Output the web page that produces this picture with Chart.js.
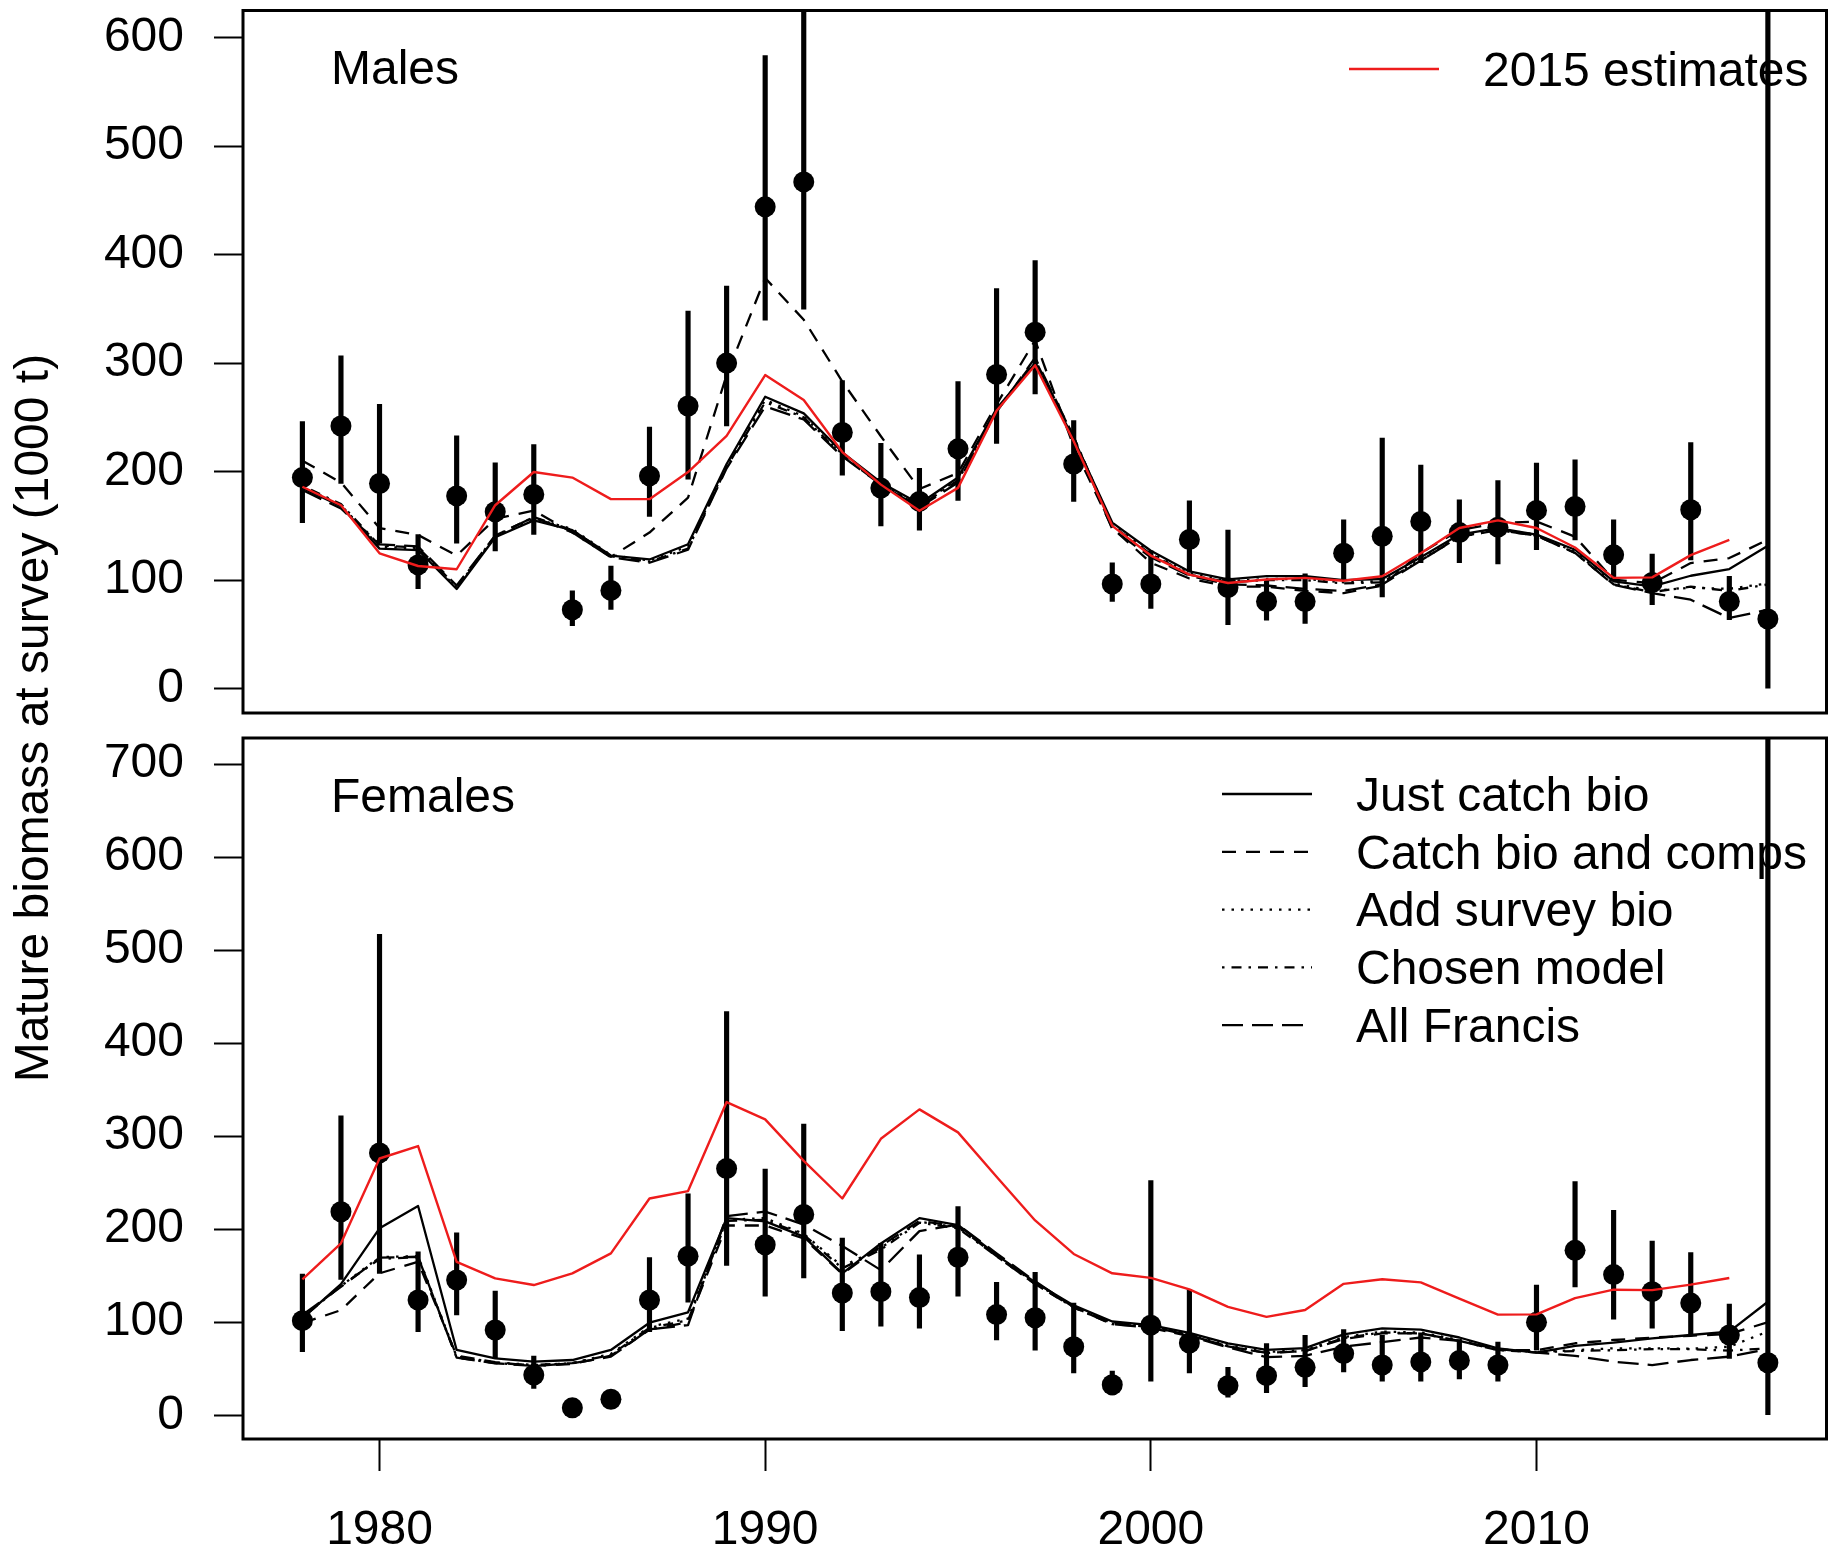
<!DOCTYPE html>
<html>
<head>
<meta charset="utf-8">
<title>Mature biomass at survey</title>
<script src="https://cdn.jsdelivr.net/npm/chart.js@4.4.1/dist/chart.umd.min.js"></script>
<style>
  html, body { margin: 0; padding: 0; background: #fff; }
  #wrap { position: relative; width: 1837px; height: 1552px; }
  #wrap canvas { position: absolute; left: 0; top: 0; }
</style>
</head>
<body>
<div id="wrap">
  <canvas id="males" width="1837" height="1552"></canvas>
  <canvas id="females" width="1837" height="1552"></canvas>
</div>
<script>
// ---- data -------------------------------------------------------------
const years = [1978, 1979, 1980, 1981, 1982, 1983, 1984, 1985, 1986, 1987,
               1988, 1989, 1990, 1991, 1992, 1993, 1994, 1995, 1996, 1997,
               1998, 1999, 2000, 2001, 2002, 2003, 2004, 2005, 2006, 2007,
               2008, 2009, 2010, 2011, 2012, 2013, 2014, 2015, 2016];

const xTickValues = [1980, 1990, 2000, 2010];
const maleTickValues = [0, 100, 200, 300, 400, 500, 600];
const femaleTickValues = [0, 100, 200, 300, 400, 500, 600, 700];

// Survey observations (1000 t) with interval bounds
const obsMale = [194.5, 242, 189, 114, 177.6, 163, 179, 72.7, 90.5, 196,
                 260.5, 300, 444, 467, 236, 184.8, 172.5, 221, 289.6, 328.5,
                 207, 96.4, 96.4, 137.4, 93, 80.3, 80.3, 124.7, 140.4, 154,
                 143.8, 148.8, 164.2, 167.8, 123.3, 97.8, 164.8, 80.3, 64.1];
const obsMaleLo = [153, 189, 134, 92, 134, 127, 142, 58, 73, 158.6,
                   193, 242, 339.5, 349.7, 196.6, 150, 146, 173.4, 226, 271.5,
                   172.5, 80.3, 74, 108, 59, 63, 60, 100.6, 84.6, 116,
                   116, 115, 128, 137, 99.4, 77.3, 118.7, 63.5, 0];
const obsMaleHi = [246, 306.6, 262, 142, 233, 208, 225, 90, 113, 241,
                   348, 371, 583.5, 700, 284, 226, 203, 283, 368.7, 394.5,
                   247, 116, 127, 173, 146, 99, 105.7, 155.6, 231, 206,
                   174, 191.8, 207.8, 210.8, 155.6, 124, 226.8, 103.4, 900];

const obsFemale = [101.7, 218.8, 282, 123.9, 145.4, 91.7, 43.3, 8, 17.2, 123.9,
                   171, 265.2, 183.3, 215.8, 131.4, 132.9, 126.5, 169.9, 108.2, 104.8,
                   73.7, 32.8, 96.9, 77.7, 31.8, 42.6, 51.5, 66.3, 54, 57.4,
                   58.9, 54, 99.9, 177.3, 151.2, 132.9, 120.6, 86.3, 56.5];
const obsFemaleLo = [68.4, 146, 152.6, 89.8, 107.8, 61.2, 29, 6, 14, 89.8,
                     121.6, 161, 127.9, 147.7, 91, 95.9, 93.5, 127.9, 81.1, 70,
                     45.6, 21.9, 36.7, 45.6, 19.4, 24.4, 30.8, 46.6, 36.7, 36.7,
                     39.2, 36.7, 70.2, 137.9, 103.3, 93.5, 86, 61.2, 0];
const obsFemaleHi = [151.8, 322, 517, 175.8, 196, 133.6, 63.7, 10, 21, 169.4,
                     238, 433.9, 264.6, 313, 190.6, 184.7, 172.4, 224.2, 142.8, 153.6,
                     120.6, 47.6, 252.3, 135.4, 51.5, 77.2, 86, 92, 86, 88.5,
                     81, 78.6, 140, 251.3, 220.2, 187.2, 174.9, 119.6, 900];

// 2015 assessment estimates (1978-2015)
const est2015Male = [186, 169, 124.7, 113, 110, 169, 199.6, 194.5, 174.6, 174.6,
                     199.6, 233, 289, 266, 218, 188, 164, 185, 256, 298,
                     228, 150, 122.6, 105, 97.3, 100.6, 102, 99.4, 103.6, 124.7,
                     148, 155, 148, 130, 102, 102.5, 123, 137];
const est2015Female = [146, 184.8, 276, 289.4, 165, 147.2, 140, 152.6, 174, 233,
                       241, 336.7, 318, 273.5, 233, 297.2, 328.8, 304.1, 256.3, 209.4,
                       173.4, 152.6, 147.7, 135.4, 116.5, 105.8, 113.2, 141.3, 146.2, 142.8,
                       125.5, 108.2, 108.5, 126, 135, 134.5, 140.5, 147.5];

// Model runs, males (1978-2016)
const justCatchMale = [185, 168, 129, 127.7, 91.8, 139.5, 155, 146, 122.6, 119,
                       133, 207, 269, 253.7, 217.8, 190, 170.4, 194.5, 258, 300,
                       230, 153, 127, 108, 100.6, 103.6, 103.6, 100, 101, 121,
                       142, 148, 142, 128, 98.8, 94.2, 104, 110.2, 131.6];
const catchCompsMale = [210, 190, 148, 141.6, 122.6, 156.4, 164, 143.8, 121.4, 143.8,
                        176, 289, 378.4, 340, 283, 232.6, 184, 198.7, 262, 321,
                        223, 148, 116, 101.5, 94, 94, 90, 88, 95, 125,
                        146, 152.5, 154, 140, 100.3, 97.2, 115.7, 120.3, 137.2];
const surveyBioMale = [186, 169, 131, 129, 93, 140, 157, 147, 123, 118,
                       131, 205, 266, 251, 216, 189, 169, 193, 257, 302,
                       231, 151, 125, 106, 99, 101, 101, 98, 99, 119,
                       141, 147, 142, 126, 97, 90, 93, 92, 97];
const chosenMale = [187, 170, 132, 130, 94, 141, 158, 146, 122, 117,
                    129, 204, 264, 250, 215, 188, 168, 192, 256, 303,
                    232, 150, 124, 105, 98, 100, 100, 97, 98, 118,
                    140, 146, 141, 125, 96, 89, 94, 90, 96];
const francisMale = [183, 166, 133, 131, 95, 141, 158, 144, 121, 116,
                     128, 203, 260, 248, 214, 188, 167, 190, 255, 305,
                     232, 147, 121, 104, 96, 95, 92, 90, 96, 118,
                     140, 146, 141, 125, 95.7, 88, 81.9, 65, 72.7];

// Model runs, females (1978-2016)
const justCatchFemale = [104.2, 141, 201, 225, 70.2, 61.2, 57.6, 59.4, 70.2, 99.5,
                         110.7, 211.9, 208.4, 192.1, 152.6, 184.7, 211.9, 204.5, 172.4, 142.8,
                         118.1, 100.8, 96.9, 88.5, 77.2, 70.3, 72.2, 87, 93.5, 92,
                         83.6, 72, 67.3, 74.5, 78, 82.7, 86.3, 89.9, 122];
const catchCompsFemale = [99, 113, 152.6, 165, 64, 57, 53, 55, 64, 92,
                          100, 204, 204, 190, 152, 182, 209, 203, 171, 141,
                          116, 99, 95, 86, 74, 67, 69, 82, 88, 88,
                          80, 70, 70, 77.4, 80.9, 83.5, 85.5, 87.4, 100];
const surveyBioFemale = [106, 139, 170, 171, 63, 57, 54, 56, 66, 95,
                         104, 210, 212, 195, 160, 180, 208, 202, 172, 142,
                         117, 99, 96, 87, 75, 68, 70, 84, 90, 89,
                         81, 71, 68, 70, 72, 72, 71.5, 73.7, 90];
const chosenFemale = [105, 139, 168, 170, 62, 56, 54, 56, 65, 94,
                      102, 209, 210, 194, 158, 178, 207, 201, 171, 141,
                      116, 98, 95, 86, 74, 67, 69, 83, 89, 88,
                      80, 70, 68, 69, 70, 71, 71, 69.5, 72];
const francisFemale = [107.8, 138, 169.4, 170.4, 61.9, 55.9, 53, 55.9, 63, 92.4,
                       97, 214, 219, 205, 182, 156, 198, 205, 174, 144,
                       116, 98, 94, 85, 73, 62.4, 63.9, 73.7, 78.6, 83.6,
                       80.1, 71.2, 67.3, 63.9, 57.6, 54, 59.4, 63, 71];

const runLabels = ['Just catch bio', 'Catch bio and comps', 'Add survey bio', 'Chosen model', 'All Francis'];
const estimateLabel = '2015 estimates';

// ---- styling ----------------------------------------------------------
const FONT_FAMILY = "'Liberation Sans', Arial, Helvetica, sans-serif";
const FONT_SIZE = 48;
const RED = '#ee1c1c';
const runDashes = [[], [14, 10], [2.5, 7], [2.5, 7, 10, 7], [21, 9]];

function toPoints(values) {
  return values.map((v, i) => ({ x: years[i], y: v }));
}
function toIntervals(lo, hi) {
  return lo.map((v, i) => ({ x: years[i], y: [v, hi[i]] }));
}

// frame around the plotting region
const framePlugin = {
  id: 'frame',
  afterDraw(chart) {
    const a = chart.chartArea, c = chart.ctx;
    c.save();
    c.strokeStyle = '#000';
    c.lineWidth = 3;
    c.strokeRect(a.left, a.top, a.right - a.left, a.bottom - a.top);
    c.restore();
  }
};

// panel name, in-plot legend, shared y-axis title
const annotatePlugin = {
  id: 'annotate',
  afterDraw(chart, args, opts) {
    const c = chart.ctx;
    c.save();
    c.fillStyle = '#000';
    c.font = FONT_SIZE + 'px ' + FONT_FAMILY;
    c.textBaseline = 'middle';
    c.textAlign = 'left';
    c.fillText(opts.title, opts.titleX, opts.titleY);

    opts.legend.forEach((dsIndex, k) => {
      const ds = chart.data.datasets[dsIndex];
      const y = opts.legendY + k * opts.legendStep;
      c.save();
      c.strokeStyle = ds.borderColor;
      c.lineWidth = ds.borderWidth;
      c.setLineDash(ds.borderDash || []);
      c.beginPath();
      c.moveTo(opts.lineX0, y);
      c.lineTo(opts.lineX1, y);
      c.stroke();
      c.restore();
      c.fillText(ds.label, opts.textX, y + 3.5);
    });

    if (opts.axisTitle) {
      c.save();
      c.translate(opts.axisTitleX, opts.axisTitleY);
      c.rotate(-Math.PI / 2);
      c.textAlign = 'center';
      c.fillText(opts.axisTitle, 0, 0);
      c.restore();
    }
    c.restore();
  }
};

function runDataset(label, values, dashIndex) {
  return {
    type: 'line', label, data: toPoints(values),
    borderColor: '#000', borderWidth: 2.3, borderDash: runDashes[dashIndex],
    borderCapStyle: 'butt', borderJoinStyle: 'round',
    pointRadius: 0, fill: false, order: 2
  };
}

function buildPanel(canvasId, p) {
  const font = { family: FONT_FAMILY, size: FONT_SIZE, lineHeight: 1.2 };
  const datasets = [
    {
      type: 'line', label: estimateLabel, data: toPoints(p.estimate),
      borderColor: RED, borderWidth: 2.4, pointRadius: 0, fill: false, order: 0,
      borderJoinStyle: 'round'
    },
    runDataset(runLabels[0], p.runs[0], 0),
    runDataset(runLabels[1], p.runs[1], 1),
    runDataset(runLabels[2], p.runs[2], 2),
    runDataset(runLabels[3], p.runs[3], 3),
    runDataset(runLabels[4], p.runs[4], 4),
    {
      type: 'line', label: 'Survey', data: toPoints(p.obs), showLine: false,
      pointRadius: 10.5, pointBackgroundColor: '#000', pointBorderWidth: 0,
      pointStyle: 'circle', order: 10
    },
    {
      type: 'bar', label: 'Survey interval', data: toIntervals(p.lo, p.hi),
      backgroundColor: '#000', borderWidth: 0, barThickness: 4.5,
      grouped: false, clip: 0, order: 20
    }
  ];

  return new Chart(document.getElementById(canvasId), {
    type: 'line',
    data: { datasets },
    plugins: [framePlugin, annotatePlugin],
    options: {
      responsive: false,
      devicePixelRatio: 1,
      animation: false,
      events: [],
      layout: { padding: p.padding },
      plugins: {
        legend: { display: false },
        tooltip: { enabled: false },
        annotate: p.annotate
      },
      scales: {
        x: {
          type: 'linear', min: 1976.46, max: 2017.52, offset: false,
          display: p.showX,
          afterBuildTicks: s => { s.ticks = xTickValues.map(v => ({ value: v })); },
          afterFit: s => { s.height = p.showX ? 113 : 0; s.paddingLeft = 0; s.paddingRight = 0; },
          grid: { drawOnChartArea: false, drawTicks: true, tickLength: 32, tickWidth: 2, tickColor: '#000', offset: false },
          border: { display: false },
          ticks: { color: '#000', font, padding: 31, maxRotation: 0, autoSkip: false, callback: v => String(v) }
        },
        y: {
          type: 'linear', min: p.yMin, max: p.yMax,
          afterBuildTicks: s => { s.ticks = p.yTicks.map(v => ({ value: v })); },
          afterFit: s => { s.width = 200; s.paddingTop = 0; s.paddingBottom = 0; },
          grid: { drawOnChartArea: false, drawTicks: true, tickLength: 29, tickWidth: 2, tickColor: '#000' },
          border: { display: false },
          ticks: { color: '#000', font, padding: 30, autoSkip: false, callback: v => String(v) }
        }
      }
    }
  });
}

buildPanel('males', {
  obs: obsMale, lo: obsMaleLo, hi: obsMaleHi, estimate: est2015Male,
  runs: [justCatchMale, catchCompsMale, surveyBioMale, chosenMale, francisMale],
  yMin: -22.5, yMax: 625, yTicks: maleTickValues, showX: false,
  padding: { left: 43, right: 4.5, top: 10, bottom: 839 },
  annotate: {
    title: 'Males', titleX: 331, titleY: 70.6,
    legend: [0], legendY: 69, legendStep: 0, lineX0: 1349, lineX1: 1439, textX: 1483,
    axisTitle: 'Mature biomass at survey (1000 t)', axisTitleX: 35, axisTitleY: 718
  }
});

buildPanel('females', {
  obs: obsFemale, lo: obsFemaleLo, hi: obsFemaleHi, estimate: est2015Female,
  runs: [justCatchFemale, catchCompsFemale, surveyBioFemale, chosenFemale, francisFemale],
  yMin: -25.5, yMax: 728, yTicks: femaleTickValues, showX: true,
  padding: { left: 43, right: 4.5, top: 738, bottom: 0 },
  annotate: {
    title: 'Females', titleX: 331, titleY: 798.6,
    legend: [1, 2, 3, 4, 5], legendY: 794, legendStep: 57.8, lineX0: 1222, lineX1: 1312, textX: 1356
  }
});
</script>
</body>
</html>
